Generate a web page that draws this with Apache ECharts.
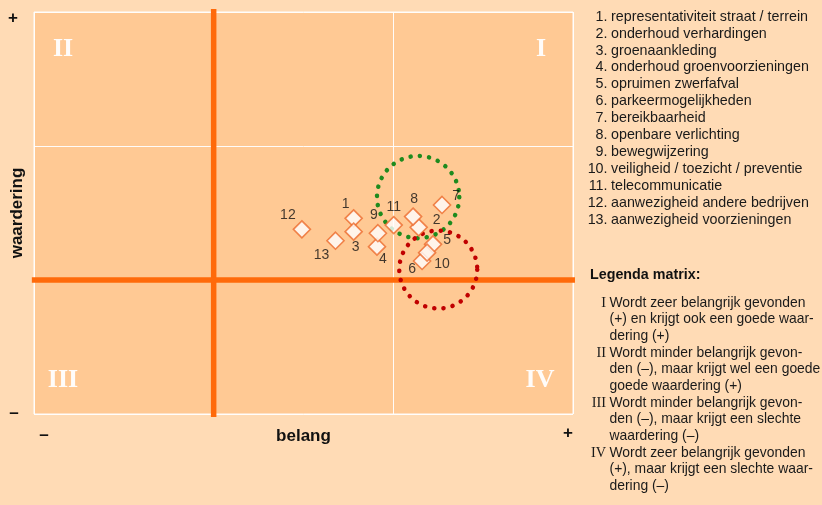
<!DOCTYPE html>
<html><head><meta charset="utf-8">
<script src="https://cdn.jsdelivr.net/npm/echarts@6/dist/echarts.min.js"></script>
<style>html,body{margin:0;padding:0;background:#FFDBB5}#c{width:822px;height:505px}</style>
</head><body><div id="c"></div>
<script>
// Data (belang = x, waardering = y; origin at the orange cross)
const pointLabels = ['1','2','3','4','5','6','7','8','9','10','11','12','13'];
const belang     = [0.779, 1.141, 0.779, 0.909, 1.221, 1.160, 1.271, 1.110, 0.914, 1.188, 1.002, 0.491, 0.678];
const waardering = [0.460, 0.393, 0.361, 0.249, 0.266, 0.142, 0.560, 0.473, 0.349, 0.204, 0.410, 0.378, 0.293];
const itemNames = [
  'representativiteit straat / terrein','onderhoud verhardingen','groenaankleding',
  'onderhoud groenvoorzieningen','opruimen zwerfafval','parkeermogelijkheden',
  'bereikbaarheid','openbare verlichting','bewegwijzering',
  'veiligheid / toezicht / preventie','telecommunicatie',
  'aanwezigheid andere bedrijven','aanwezigheid voorzieningen'];
const circleX = [1.138, 1.250];
const circleY = [0.619, 0.078];
const circleR = [0.229, 0.217];
const quadrantNames = ['I','II','III','IV'];
const matrixLines = [
  ['I',  ['Wordt zeer belangrijk gevonden','(+) en krijgt ook een goede waar-','dering (+)']],
  ['II', ['Wordt minder belangrijk gevon-','den (–), maar krijgt wel een goede','goede waardering (+)']],
  ['III',['Wordt minder belangrijk gevon-','den (–), maar krijgt een slechte','waardering (–)']],
  ['IV', ['Wordt zeer belangrijk gevonden','(+), maar krijgt een slechte waar-','dering (–)']]
];

// Styles
const labelOffsets = [[-8,-14],[18,-7],[2,16],[6,13],[14,-4],[-10,8],[14,-9],[1,-17],[-4,-18],[15,11],[0,-18],[-14,-14],[-14,14]];
const circleColors = ['#1E8B1E','#C00000'];
const SANS = '"Liberation Sans", Arial, sans-serif';
const SERIF = '"Liberation Serif", "Times New Roman", serif';
const ORANGE = '#FF6A0A';

const chart = echarts.init(document.getElementById('c'));

const scatterData = pointLabels.map((n,i)=>({
  value:[belang[i], waardering[i]], name:n,
  label:{offset:labelOffsets[i]}
}));

const graphics = [];
const qPos = [[541,49],[63,49],[63,380],[540,380]];
quadrantNames.forEach((q,i)=>graphics.push({type:'text', x:qPos[i][0], y:qPos[i][1],
  style:{text:q, font:'bold 26px '+SERIF, fill:'rgba(255,255,255,0.95)', align:'center', verticalAlign:'middle'}}));
[['+',13,18],['–',14,413],['–',44,435],['+',568,433]].forEach(s=>graphics.push({type:'text', x:s[1], y:s[2],
  style:{text:s[0], font:'bold 17px '+SANS, fill:'#111', align:'center', verticalAlign:'middle'}}));
itemNames.forEach((t,i)=>{
  const y = 16.7 + i*16.94;
  graphics.push({type:'text', x:607.5, y, style:{text:pointLabels[i]+'.', font:'14.3px '+SANS, fill:'#1a1a1a', align:'right', verticalAlign:'middle'}});
  graphics.push({type:'text', x:611, y, style:{text:t, font:'14.3px '+SANS, fill:'#1a1a1a', align:'left', verticalAlign:'middle'}});
});
graphics.push({type:'text', x:590, y:275, style:{text:'Legenda matrix:', font:'bold 14.3px '+SANS, fill:'#111', align:'left', verticalAlign:'middle'}});
let k = 0;
matrixLines.forEach(([num, lines])=>{
  lines.forEach((ln,j)=>{
    const y = 302.7 + k*16.67;
    if (j===0) graphics.push({type:'text', x:606, y:y+1, style:{text:num, font:'14.3px '+SERIF, fill:'#1a1a1a', align:'right', verticalAlign:'middle'}});
    graphics.push({type:'text', x:609.5, y, style:{text:ln, font:'13.9px '+SANS, fill:'#1a1a1a', align:'left', verticalAlign:'middle'}});
    k++;
  });
});

const axisCommon = {
  type:'value', min:-1, max:2, interval:1,
  axisLine:{show:false}, axisTick:{show:false}, axisLabel:{show:false},
  splitLine:{lineStyle:{color:'rgba(255,255,255,0.95)', width:1}},
  nameLocation:'middle',
  nameTextStyle:{fontFamily:SANS, fontWeight:'bold', fontSize:17, color:'#111'}
};

chart.setOption({
  animation:false,
  backgroundColor:'#FFDBB5',
  grid:{left:34, right:249, top:12, bottom:91, containLabel:false, outerBoundsMode:'none',
    show:true, backgroundColor:'#FFC994', borderColor:'rgba(255,255,255,0.95)', borderWidth:1},
  xAxis:Object.assign({}, axisCommon, {name:'belang', nameGap:14}),
  yAxis:Object.assign({}, axisCommon, {name:'waardering', nameGap:8}),
  graphic:graphics,
  series:[
    {type:'line', data:[[0,-1.022],[0,2.022]], clip:false, symbol:'none', silent:true,
      lineStyle:{color:ORANGE, width:5.5}, z:2},
    {type:'line', data:[[-1.012,0],[2.011,0]], clip:false, symbol:'none', silent:true,
      lineStyle:{color:ORANGE, width:5.5}, z:2},
    {type:'custom', z:3, silent:true,
      data:circleX.map((x,i)=>[x, circleY[i], circleR[i]]),
      renderItem:(params, api)=>{
        const c = api.coord([api.value(0), api.value(1)]);
        const r = api.size([api.value(2), 0])[0];
        return {type:'circle', shape:{cx:c[0], cy:c[1], r},
          style:{fill:'none', stroke:circleColors[params.dataIndex], lineWidth:4.5, lineDash:[0.1,9.2], lineCap:'round'}};
      }},
    {type:'scatter', z:4, symbol:'diamond', symbolSize:17, data:scatterData,
      itemStyle:{color:'#FFFFFF', borderColor:'#EC6A2C', borderWidth:1.6},
      label:{show:true, position:'inside', formatter:'{b}', fontFamily:SANS, fontSize:14, color:'#111'}}
  ]
});
</script></body></html>
